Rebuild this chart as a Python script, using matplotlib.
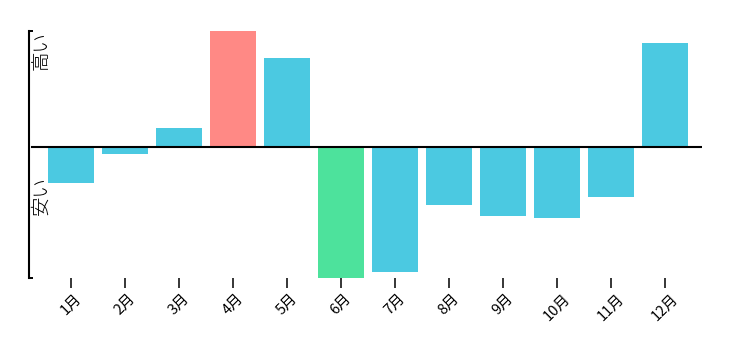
import matplotlib
matplotlib.use("Agg")
import matplotlib.pyplot as plt

plt.rcParams["font.family"] = ["Noto Sans CJK JP", "DejaVu Sans"]

# monthly price level relative to the yearly average
months = ["1月", "2月", "3月", "4月", "5月", "6月",
          "7月", "8月", "9月", "10月", "11月", "12月"]
values = [-36, -7, 19, 116.5, 89.5, -130.5, -125, -58, -69, -71, -50, 104.5]

CYAN = "#4bc9e1"
HIGH = "#ff8985"
LOW = "#4de29c"

W, H = 740, 364
fig = plt.figure(figsize=(W / 100, H / 100), dpi=100)
# axes placed in pixel terms to line up with the reference
ax = fig.add_axes([29 / W, (H - 277.5) / H, (702 - 29) / W, (277.5 - 31) / H])

vmax, vmin = max(values), min(values)
colors = []
for v in values:
    if v == vmax:
        colors.append(HIGH)
    elif v == vmin:
        colors.append(LOW)
    else:
        colors.append(CYAN)

x = range(len(months))
ax.bar(x, values, width=0.85, color=colors, zorder=2)
# zero line starts just right of the axis bracket
ax.axhline(0, xmin=3 / 673, color="black", linewidth=1.5, zorder=3)

ax.set_xlim(-0.78, len(months) - 1 + 0.685)
ax.set_ylim(vmin, vmax)

ax.set_xticks(list(x))
ax.set_xticklabels(months, rotation=45, ha="center", fontsize=10.5)
ax.tick_params(axis="x", length=7.5, width=1.1, pad=2.5, direction="out")

ax.set_yticks([vmin, vmax])
ax.set_yticklabels([])
ax.tick_params(axis="y", length=3, width=1.4, direction="in")

for side in ("top", "right", "bottom"):
    ax.spines[side].set_visible(False)
ax.spines["left"].set_linewidth(1.5)

# rotated y labels: top for expensive, below baseline for cheap
fig.text(41 / W, 1 - 31 / H, "高い", rotation=90, ha="center", va="top",
         fontsize=14, fontweight="light")
fig.text(41 / W, 1 - 176 / H, "安い", rotation=90, ha="center", va="top",
         fontsize=14, fontweight="light")

fig.savefig("out.png", dpi=100)
